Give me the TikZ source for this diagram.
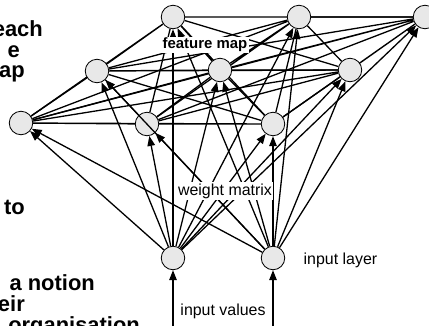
\documentclass[tikz,border=0pt]{standalone}
\usepackage{fontspec}
\setmainfont{Liberation Sans}
\usetikzlibrary{arrows.meta}
\pgfdeclarelayer{background}
\pgfsetlayers{background,main}

\tikzset{
  unit/.style={circle, draw, fill=gray!18, minimum size=23.5bp, inner sep=0pt, line width=0.8bp},
  link/.style={line width=1.3bp},
  feed/.style={line width=1.3bp, -{Triangle[length=10bp,width=7.5bp]}},
  tag/.style={fill=white, inner sep=1.5bp, font=\fontsize{16}{18}\selectfont},
  slide/.style={anchor=base east, inner sep=0pt, font=\fontsize{22}{24}\selectfont\bfseries},
}

\begin{document}
\begin{tikzpicture}[x=1bp,y=-1bp]
	\useasboundingbox (0,0) rectangle (429,326);
	\clip (0,0) rectangle (429,326);
	% slide text, cut off at the left
	\node[slide] (w1) at (43,36) {each};
	\node[slide] (w2) at (20,57) {e};
	\node[slide] (w3) at (25,77) {ap};
	\node[slide] (w4) at (25,214) {to};
	\node[slide] (w5) at (95,290) {a notion};
	\node[slide] (w6) at (25,311) {eir};
	\node[slide] (w7) at (140,332) {organisation};
	% feature map
	\node[unit] (t1) at (173,17) {};
	\node[unit] (t2) at (299,17) {};
	\node[unit] (t3) at (425,17) {};
	\node[unit] (m1) at (97,71) {};
	\node[unit] (m2) at (220,70) {};
	\node[unit] (m3) at (350,70) {};
	\node[unit] (b1) at (21,123) {};
	\node[unit] (b2) at (147,124) {};
	\node[unit] (b3) at (273,124) {};
	% input layer
	\node[unit] (i1) at (173,258) {};
	\node[unit] (i2) at (273,258) {};
	\coordinate (v1) at (173,326);
	\coordinate (v2) at (273,326);
	\begin{pgfonlayer}{background}
	\draw[link] (t1) -- (t2) (t1) -- (t3) (t1) -- (m1) (t1) -- (m2) (t1) -- (m3) (t1) -- (b1) (t1) -- (b2) (t1) -- (b3);
	\draw[link] (t2) -- (t3) (t2) -- (m1) (t2) -- (m2) (t2) -- (m3) (t2) -- (b1) (t2) -- (b2) (t2) -- (b3);
	\draw[link] (t3) -- (m1) (t3) -- (m2) (t3) -- (m3) (t3) -- (b1) (t3) -- (b2) (t3) -- (b3);
	\draw[link] (m1) -- (m2) (m1) -- (m3) (m1) -- (b1) (m1) -- (b2) (m1) -- (b3);
	\draw[link] (m2) -- (m3) (m2) -- (b1) (m2) -- (b2) (m2) -- (b3);
	\draw[link] (m3) -- (b1) (m3) -- (b2) (m3) -- (b3);
	\draw[link] (b1) -- (b2) (b1) -- (b3) (b2) -- (b3);
	\end{pgfonlayer}
	\draw[feed] (i1) -- (t1); \draw[feed] (i1) -- (t2); \draw[feed] (i1) -- (t3);
	\draw[feed] (i1) -- (m1); \draw[feed] (i1) -- (m2); \draw[feed] (i1) -- (m3);
	\draw[feed] (i1) -- (b1); \draw[feed] (i1) -- (b2); \draw[feed] (i1) -- (b3);
	\draw[feed] (i2) -- (t1); \draw[feed] (i2) -- (t2); \draw[feed] (i2) -- (t3);
	\draw[feed] (i2) -- (m1); \draw[feed] (i2) -- (m2); \draw[feed] (i2) -- (m3);
	\draw[feed] (i2) -- (b1); \draw[feed] (i2) -- (b2); \draw[feed] (i2) -- (b3);
	\draw[feed] (v1) -- (i1);
	\draw[feed] (v2) -- (i2);
	% labels
	\node[tag, font=\fontsize{15}{17}\selectfont\bfseries] (fm) at (205,45) {feature map};
	\node[tag] (wm) at (225,191) {weight matrix};
	\node[tag] (iv) at (223,311) {input values};
	\node[tag, fill=none, anchor=west] (il) at (302,260) {input layer};
\end{tikzpicture}
\end{document}
